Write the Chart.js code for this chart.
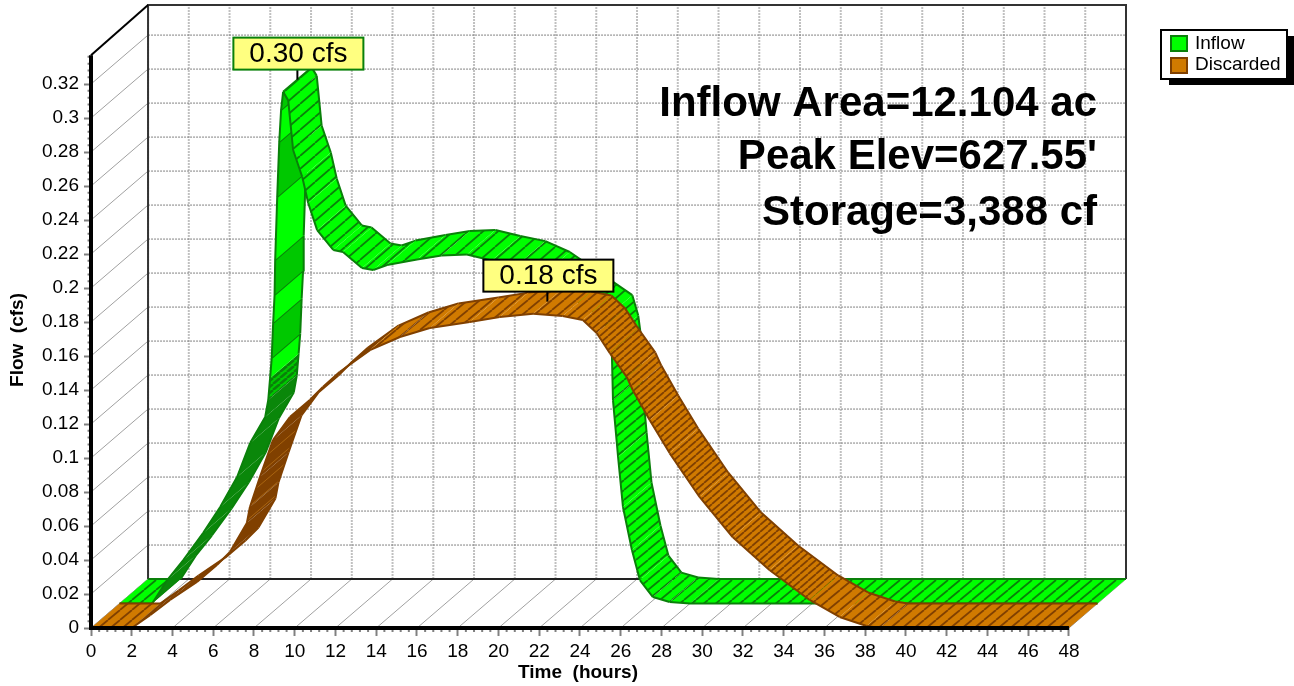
<!DOCTYPE html>
<html>
<head>
<meta charset="utf-8">
<title>Pond routing</title>
<script src="https://cdn.jsdelivr.net/npm/chart.js@4/dist/chart.umd.min.js"></script>
<style>
  html, body { margin: 0; padding: 0; background: #fff; }
  canvas { display: block; }
</style>
</head>
<body>
<canvas id="routingChart" width="1294" height="686"></canvas>
<script>
const xTicks = [0, 2, 4, 6, 8, 10, 12, 14, 16, 18, 20, 22, 24, 26, 28, 30, 32, 34, 36, 38, 40, 42, 44, 46, 48];
const yTicks = [0, 0.02, 0.04, 0.06, 0.08, 0.1, 0.12, 0.14, 0.16, 0.18, 0.2, 0.22, 0.24, 0.26, 0.28, 0.3, 0.32];

const inflowTimes = [0, 1.6, 2.34, 3.13, 4.1, 4.94, 5.77, 6.41, 7.15, 7.3, 7.39, 7.47, 7.54, 7.61, 7.64, 7.74, 7.84, 7.93, 8.03,
  8.28, 8.52, 8.97, 9.26, 9.7, 10.49, 10.97, 11.9, 12.45, 13.13, 14.6, 15.8, 17.05, 18.27, 19.5, 20.7, 22.2, 23.77, 24.06, 24.17,
  24.22, 24.47, 24.71, 25.15, 25.54, 26.18, 27, 28, 48];
const inflowFlow = [0, 0, 0.0138, 0.0256, 0.0415, 0.0568, 0.0744, 0.0944, 0.1097, 0.1197, 0.1326, 0.1444, 0.165, 0.1815, 0.2021, 0.2391, 0.2715, 0.2903, 0.301,
  0.296, 0.2668, 0.2509, 0.2356, 0.2197, 0.208, 0.2068, 0.1974, 0.1962, 0.1991, 0.2024, 0.2047, 0.2053, 0.2018, 0.1988, 0.1924, 0.18, 0.167, 0.155, 0.145,
  0.1197, 0.0862, 0.0568, 0.0315, 0.0138, 0.0038, 0.0009, 0, 0];

const discardedTimes = [0, 2, 2.9, 3.88, 5.2, 6.18, 6.82, 7.65, 7.8, 8.29, 8.93, 9.76, 10.74, 11.38, 12.2, 13.69, 15.16, 16.63, 18.59, 20.06, 21.7, 23.15,
  24.14, 24.82, 25.46, 26.3, 26.59, 27.42, 28.4, 29.87, 31.49, 33.3, 35.27, 36.74, 38.07, 38.7, 48];
const discardedFlow = [0, 0, 0.0076, 0.0165, 0.0271, 0.0371, 0.0447, 0.0618, 0.0712, 0.0888, 0.1106, 0.1241, 0.1341, 0.1418, 0.1506, 0.1635, 0.1712, 0.1765, 0.18, 0.1829, 0.1848, 0.1835,
  0.1812, 0.1735, 0.1618, 0.1476, 0.14, 0.1224, 0.1029, 0.0771, 0.0535, 0.0341, 0.0165, 0.0065, 0.0012, 0, 0];

const noteLines = ['Inflow Area=12.104 ac', "Peak Elev=627.55'", 'Storage=3,388 cf'];
const seriesNames = ['Inflow', 'Discarded'];
const inflowCallout = '0.30 cfs';
const discardedCallout = '0.18 cfs';

// how far the "3D" depth shifts things, in axis units
const depthX = 2.8;
const depthY = 0.0288;
const xMax = 48 + depthX;
const yMax = 0.3665;
const font = '"Liberation Sans", Arial, sans-serif';

const canvas = document.getElementById('routingChart');
const ctx = canvas.getContext('2d');

const hatch = (bg, line, w, h, lw) => {
  const tile = document.createElement('canvas');
  tile.width = w;
  tile.height = h;
  const t = tile.getContext('2d');
  t.fillStyle = bg;
  t.fillRect(0, 0, w, h);
  t.strokeStyle = line;
  t.lineWidth = lw;
  [-w, 0, w].forEach(dx => {
    t.beginPath();
    t.moveTo(dx, h);
    t.lineTo(dx + w, 0);
    t.stroke();
  });
  return ctx.createPattern(tile, 'repeat');
};

const GREEN = '#00ff00', GREEN_BAND = '#00c800', GREEN_LINE = '#0a800a', GREEN_DARK = '#0a870a';
const ORANGE = '#d07a00', ORANGE_LINE = '#804000';

const greenWide = hatch(GREEN, GREEN_LINE, 15, 13, 1.8);
const greenNarrow = hatch(GREEN, GREEN_LINE, 12, 10, 1.8);
const greenStripes = hatch(GREEN_BAND, GREEN_LINE, 7, 6, 2.5);
const orangeWide = hatch(ORANGE, ORANGE_LINE, 12, 10, 1.8);
const orangeDense = hatch(ORANGE, ORANGE_LINE, 8, 7, 1.8);
const orangeStreak = hatch(ORANGE_LINE, '#a96510', 14, 12, 1);

const inflowStyle = (t0, t1, i) => {
  if (t1 <= 1.6) return { fill: greenNarrow };
  if (t1 <= 7.3) return { fill: GREEN_DARK };
  if (t1 <= 7.39) return { fill: greenStripes };
  if (t1 <= 8.03) return { fill: i % 2 === 1 ? GREEN_BAND : GREEN, sides: true };
  return { fill: t1 <= 24 ? greenWide : greenNarrow };
};

const discardedStyle = (t0, t1) => {
  if (t1 <= 2) return { fill: orangeWide };
  if (t1 <= 7.65) return { fill: ORANGE_LINE };
  if (t1 <= 8.93) return { fill: orangeStreak };
  if (t1 <= 13.69) return { fill: ORANGE_LINE };
  if (t1 <= 24.14) return { fill: orangeWide };
  return { fill: t1 <= 36 ? orangeDense : orangeWide };
};

const datasets = [];
// first pushed is painted first, so later quads sit on top of earlier ones
const add = (data, opts) => {
  datasets.push(Object.assign({
    data,
    showLine: true,
    pointRadius: 0,
    borderWidth: 1,
    fill: false,
    clip: false,
    order: -datasets.length
  }, opts));
};

const gapped = lines => {
  const out = [];
  lines.forEach(l => out.push(...l, { x: null, y: null }));
  return out;
};

const ribbon = (times, flow, from, to, styleFor, edge) => {
  const at = (i, d) => ({ x: times[i] + d * depthX, y: flow[i] + d * depthY });
  for (let i = 0; i < times.length - 1; i++) {
    const style = styleFor(times[i], times[i + 1], i);
    add([at(i, from), at(i + 1, from), at(i + 1, to), at(i, to), at(i, from)], {
      fill: 'shape',
      backgroundColor: style.fill,
      borderColor: 'transparent',
      borderWidth: 0
    });
    const edges = [[at(i, from), at(i + 1, from)], [at(i, to), at(i + 1, to)]];
    if (style.sides) edges.push([at(i + 1, from), at(i + 1, to)]);
    add(gapped(edges), { borderColor: edge, borderWidth: 2 });
  }
};

const wallX = xTicks.map(t => t + depthX);
const wallY = yTicks.map(q => q + depthY);

add(gapped(yTicks.map(q => [{ x: 0, y: q }, { x: depthX, y: q + depthY }])), { borderColor: '#a0a0a0' });
add(gapped(xTicks.map(t => [{ x: t, y: 0 }, { x: t + depthX, y: depthY }])), { borderColor: '#a0a0a0' });
add(gapped(wallX.map(t => [{ x: t, y: depthY }, { x: t, y: yMax }])), { borderColor: '#c0c0c0', borderWidth: 2, borderDash: [2, 1] });
add(gapped(wallY.map(q => [{ x: depthX, y: q }, { x: xMax, y: q }])), { borderColor: '#808080', borderWidth: 1, borderDash: [2, 1] });

// back wall frame
add([{ x: depthX, y: depthY }, { x: depthX, y: yMax }, { x: xMax, y: yMax }, { x: xMax, y: depthY }], { borderColor: '#333', borderWidth: 2 });
add([{ x: depthX, y: depthY }, { x: xMax, y: depthY }], { borderColor: '#222', borderWidth: 2 });
add([{ x: 0, y: 0.337 }, { x: depthX, y: yMax }], { borderColor: '#000', borderWidth: 2 });

ribbon(inflowTimes, inflowFlow, 0.5, 1, inflowStyle, GREEN_LINE);
ribbon(discardedTimes, discardedFlow, 0, 0.5, discardedStyle, ORANGE_LINE);

// minor ticks, four between each labelled tick
const minorX = [], minorY = [];
for (let k = 0; k <= 120; k++) {
  if (k % 5) minorX.push([{ x: k * 0.4, y: 0 }, { x: k * 0.4, y: -0.0024 }]);
}
for (let k = 0; k <= 84; k++) {
  if (k % 5) minorY.push([{ x: 0, y: k * 0.004 }, { x: -0.17, y: k * 0.004 }]);
}
add(gapped(minorX), { borderColor: '#808080', borderWidth: 2 });
add(gapped(minorY), { borderColor: '#808080', borderWidth: 2 });

// heavy front axes
add([{ x: 0, y: 0.337 }, { x: 0, y: 0 }, { x: 48, y: 0 }], { borderColor: '#000', borderWidth: 4 });

const peakOf = (times, flow) => {
  const i = flow.indexOf(Math.max(...flow));
  return { t: times[i], q: flow[i] };
};

const decorations = {
  id: 'decorations',
  afterDatasetsDraw(chart) {
    const c = chart.ctx;
    const { x: xs, y: ys } = chart.scales;

    const callout = (peak, depth, text, edge) => {
      const px = xs.getPixelForValue(peak.t + depth * depthX);
      const py = ys.getPixelForValue(peak.q + depth * depthY);
      const w = 130, h = 32;
      const left = px + 1 - w / 2, top = py - 10 - h;
      c.strokeStyle = '#000';
      c.lineWidth = 2;
      c.beginPath();
      c.moveTo(px, py);
      c.lineTo(px, py - 12);
      c.stroke();
      c.fillStyle = '#ffff80';
      c.fillRect(left, top, w, h);
      c.strokeStyle = edge;
      c.strokeRect(left, top, w, h);
      c.fillStyle = '#000';
      c.font = '28px ' + font;
      c.textAlign = 'center';
      c.textBaseline = 'middle';
      c.fillText(text, left + w / 2, top + h / 2 + 1);
    };
    callout(peakOf(inflowTimes, inflowFlow), 0.75, inflowCallout, GREEN_LINE);
    callout(peakOf(discardedTimes, discardedFlow), 0.25, discardedCallout, '#000');

    c.fillStyle = '#000';
    c.font = 'bold 42px ' + font;
    c.textAlign = 'right';
    c.textBaseline = 'middle';
    [104, 157, 213].forEach((y, i) => c.fillText(noteLines[i], 1097, y));

    // axis titles
    c.font = 'bold 19px ' + font;
    c.textAlign = 'center';
    c.fillText('Time  (hours)', 578, 673);
    c.save();
    c.translate(18, 340);
    c.rotate(-Math.PI / 2);
    c.fillText('Flow  (cfs)', 0, 0);
    c.restore();

    // legend with drop shadow
    c.fillStyle = '#000';
    c.fillRect(1169, 36, 125, 49);
    c.fillStyle = '#fff';
    c.fillRect(1161, 30, 126, 49);
    c.strokeStyle = '#000';
    c.lineWidth = 2;
    c.strokeRect(1161, 30, 126, 49);
    [[GREEN, GREEN_LINE, 36, 44], [ORANGE, ORANGE_LINE, 58, 65]].forEach(([fill, line, top, mid], i) => {
      c.fillStyle = fill;
      c.fillRect(1171, top, 16, 15);
      c.strokeStyle = line;
      c.strokeRect(1171, top, 16, 15);
      c.fillStyle = '#000';
      c.font = '19px ' + font;
      c.textAlign = 'left';
      c.fillText(seriesNames[i], 1195, mid);
    });
  }
};

new Chart(ctx, {
  type: 'scatter',
  data: { datasets },
  plugins: [decorations],
  options: {
    responsive: false,
    animation: false,
    layout: { padding: { top: 5, right: 168 } },
    plugins: { legend: { display: false }, tooltip: { enabled: false } },
    scales: {
      x: {
        type: 'linear',
        min: 0,
        max: xMax,
        afterBuildTicks: s => { s.ticks = xTicks.map(value => ({ value })); },
        afterFit: s => { s.height = 58; s.paddingLeft = 0; s.paddingRight = 0; },
        border: { display: false },
        grid: { drawOnChartArea: false, tickLength: 8, tickColor: '#808080', tickWidth: 2 },
        ticks: { autoSkip: false, maxRotation: 0, padding: 4, color: '#000', font: { family: font, size: 19 } }
      },
      y: {
        type: 'linear',
        min: 0,
        max: yMax,
        afterBuildTicks: s => { s.ticks = yTicks.map(value => ({ value })); },
        afterFit: s => { s.width = 91; s.paddingTop = 0; s.paddingBottom = 0; },
        border: { display: false },
        grid: { drawOnChartArea: false, tickLength: 7, tickColor: '#808080', tickWidth: 2 },
        ticks: {
          autoSkip: false,
          padding: 5,
          color: '#000',
          font: { family: font, size: 19 },
          callback: v => String(+v.toFixed(2))
        }
      }
    }
  }
});
</script>
</body>
</html>
